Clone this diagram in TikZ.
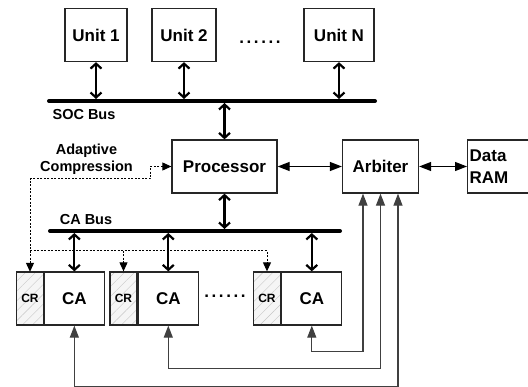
\documentclass[tikz,border=0pt]{standalone}
\usepackage{fontspec}
\setmainfont{Liberation Sans}
\usetikzlibrary{arrows.meta,patterns.meta,positioning}

\begin{document}
\begin{tikzpicture}[x=1pt,y=-1pt]
\tikzstyle{box} = [draw=black!85, line width=1.3pt, minimum height=53pt, inner sep=0pt, font=\fontsize{17}{22}\selectfont\bfseries]
\tikzstyle{crbox} = [box, minimum width=27pt, preaction={fill=gray!8}, pattern={Lines[angle=45,distance=7pt,line width=0.4pt]}, pattern color=gray!45, font=\fontsize{12}{14}\selectfont\bfseries]
\tikzstyle{txt} = [inner sep=0pt, align=center, font=\fontsize{14.5}{17}\selectfont\bfseries]
\tikzstyle{dots} = [inner sep=0pt, font=\fontsize{17}{17}\selectfont\bfseries\addfontfeature{LetterSpace=15}]
\tikzstyle{busline} = [line width=4pt, line cap=round]
\tikzstyle{busarrow} = [line width=2.2pt, {Straight Barb[length=5pt,width=11pt]}-{Straight Barb[length=5pt,width=11pt]}]
\tikzstyle{link} = [line width=1.2pt, {Triangle[length=12pt,width=9pt]}-{Triangle[length=12pt,width=9pt]}]
\tikzstyle{ctrl} = [line width=1pt, dash pattern=on 2pt off 1.5pt, {Triangle[length=9pt,width=8pt]}-{Triangle[length=9pt,width=8pt]}]
\tikzstyle{sel} = [draw=black!75, line width=1.2pt, {Triangle[length=12pt,width=9pt]}-{Triangle[length=12pt,width=9pt]}]
\useasboundingbox (0,0) rectangle (528,387);

% units on the SOC bus
\node[box, minimum width=62pt] (u1) at (96,35) {Unit 1};
\node[box, minimum width=64pt] (u2) at (184,35) {Unit 2};
\node[dots] (udots) at (260,42) {......};
\node[box, minimum width=70pt] (un) at (339,35) {Unit N};
\coordinate (socW) at (49,101);
\coordinate (socE) at (375,101);
\draw[busline] (socW) -- (socE);
\node[txt] (soclabel) at (84,115) {SOC Bus};
\foreach \u in {u1,u2,un}
    \draw[busarrow, shorten >=2pt] (\u.south) -- (\u.south |- socW);

\node[box, minimum width=105pt] (proc) at (224.5,166.5) {Processor};
\node[box, minimum width=76pt] (arb) at (380.5,166.5) {Arbiter};
\node[box, minimum width=74pt, text width=70pt, align=left, inner xsep=2pt, anchor=west] (ram) at (467,166.5) {Data\\RAM};
\draw[busarrow, shorten <=2pt] (proc.north |- socW) -- (proc.north);
\draw[link] (proc.east) -- (arb.west);
\draw[link] (arb.east) -- (ram.west);
\node[txt] (aclabel) at (86.5,159.5) {Adaptive\\Compression};

% compression accelerators
\node[crbox] (cr1) at (30,298.5) {CR};
\node[box, minimum width=60pt, right=0pt of cr1] (ca1) {CA};
\node[crbox] (cr2) at (123.5,298.5) {CR};
\node[box, minimum width=60pt, right=0pt of cr2] (ca2) {CA};
\node[dots] (cadots) at (225,296) {......};
\node[crbox] (cr3) at (267,298.5) {CR};
\node[box, minimum width=60pt, right=0pt of cr3] (ca3) {CA};
\coordinate (caW) at (50,231);
\coordinate (caE) at (340,231);
\draw[busline] (caW) -- (caE);
\node[txt] (cabuslabel) at (86,220) {CA Bus};
\draw[busarrow, shorten >=2pt] (proc.south) -- (proc.south |- caW);
\foreach \c in {ca1,ca2,ca3}
    \draw[busarrow, shorten <=2pt] (\c.north |- caW) -- (\c.north);

% adaptive compression control
\coordinate (abend) at (30,179);
\coordinate (csplit) at (30,251);
\draw[ctrl] (proc.west) -- ++(-21,0) |- (abend) -- (cr1.north);
\draw[ctrl, {-Triangle[length=9pt,width=8pt]}] (csplit) -| (cr3.north);
\draw[ctrl, {-Triangle[length=9pt,width=8pt]}] (csplit -| cr2.north) -- (cr2.north);

% arbiter requests
\draw[sel] ([xshift=-17.5pt]arb.south) -- ++(0,158) -| (ca3.south);
\draw[sel] (arb.south) -- ++(0,175) -| (ca2.south);
\draw[sel] ([xshift=17.5pt]arb.south) -- ++(0,192.5) -| (ca1.south);
\end{tikzpicture}
\end{document}
